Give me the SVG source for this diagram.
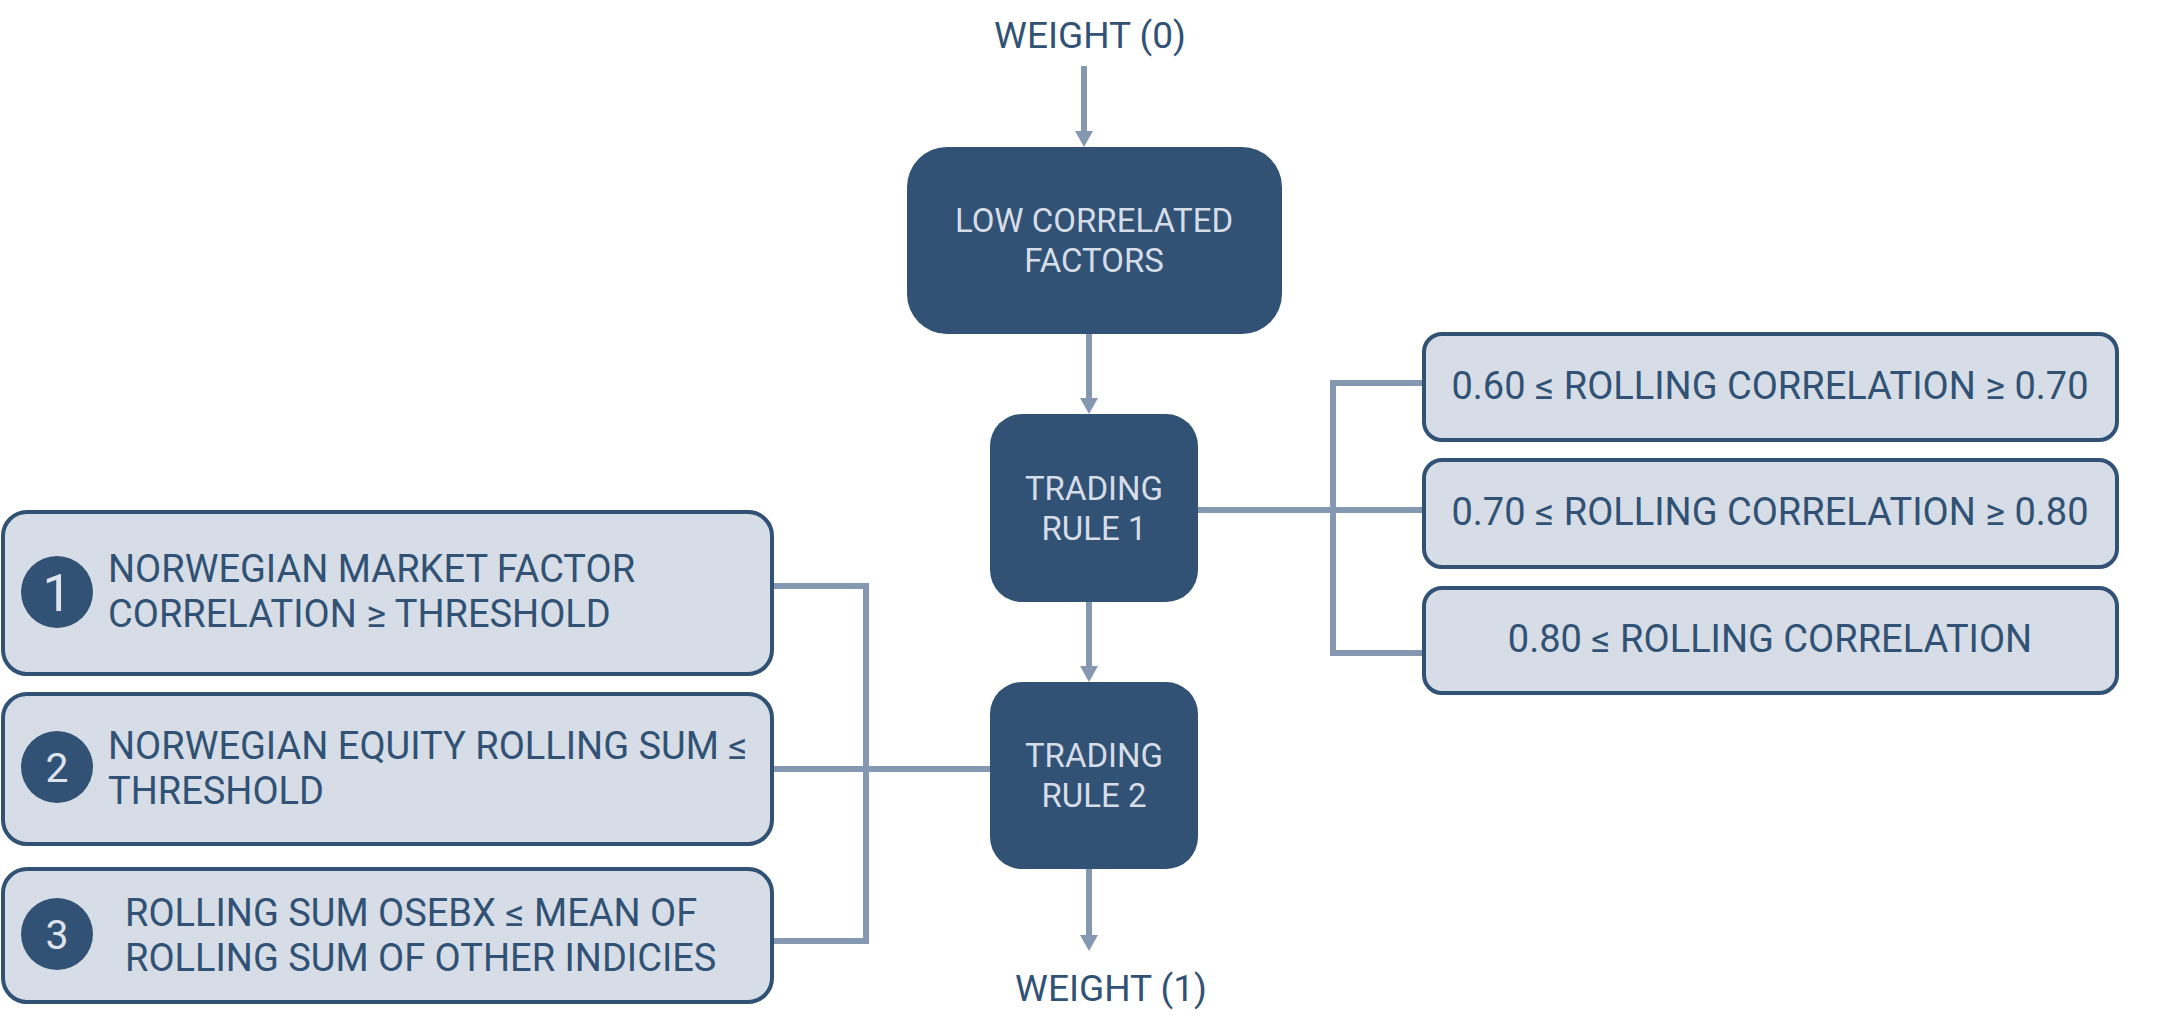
<svg xmlns="http://www.w3.org/2000/svg" width="2171" height="1034" viewBox="0 0 2171 1034">
<style>
  text { font-family: Roboto, "Liberation Sans", sans-serif; }
  .dark { fill: #315274; }
  .light { fill: #d6dde6; stroke: #315274; stroke-width: 4; }
  .conn { stroke: #8598b2; stroke-width: 6; fill: none; }
  .lt { fill: #d6dde8; font-size: 33px; text-anchor: middle; }
  .dt { fill: #315274; font-size: 38px; }
  .wt { fill: #315274; font-size: 37px; text-anchor: middle; }
  .num { fill: #dde3ec; text-anchor: middle; }
</style>
<defs>
  <marker id="arr" markerUnits="userSpaceOnUse" markerWidth="16" markerHeight="18" refX="0" refY="9" orient="auto" viewBox="0 0 16 18">
    <path d="M0,0 L16,9 L0,18 z" fill="#8598b2"/>
  </marker>
</defs>
<rect width="2171" height="1034" fill="#ffffff"/>

<g id="connectors">
  <line class="conn" x1="1084" y1="66" x2="1084" y2="131" marker-end="url(#arr)"/>
  <line class="conn" x1="1089" y1="334" x2="1089" y2="398" marker-end="url(#arr)"/>
  <line class="conn" x1="1089" y1="602" x2="1089" y2="666" marker-end="url(#arr)"/>
  <line class="conn" x1="1089" y1="869" x2="1089" y2="935" marker-end="url(#arr)"/>
  <line class="conn" x1="1193" y1="510" x2="1424" y2="510"/>
  <polyline class="conn" points="1424,383 1333,383 1333,653 1424,653"/>
  <polyline class="conn" points="772,586 866,586 866,941 772,941"/>
  <line class="conn" x1="772" y1="769" x2="990" y2="769"/>
</g>

<g id="weight0">
  <text class="wt" x="1090" y="48">WEIGHT (0)</text>
</g>
<g id="weight1">
  <text class="wt" x="1111" y="1001">WEIGHT (1)</text>
</g>

<g id="low-correlated">
  <rect class="dark" x="907" y="147" width="375" height="187" rx="40"/>
  <text class="lt" x="1094" y="232">LOW CORRELATED</text>
  <text class="lt" x="1094" y="272">FACTORS</text>
</g>

<g id="trading-rule-1">
  <rect class="dark" x="990" y="414" width="208" height="188" rx="32"/>
  <text class="lt" x="1094" y="500">TRADING</text>
  <text class="lt" x="1094" y="540">RULE 1</text>
</g>

<g id="trading-rule-2">
  <rect class="dark" x="990" y="682" width="208" height="187" rx="32"/>
  <text class="lt" x="1094" y="767">TRADING</text>
  <text class="lt" x="1094" y="807">RULE 2</text>
</g>

<g id="corr-1">
  <rect class="light" x="1424" y="334" width="693" height="106" rx="18"/>
  <text class="dt" x="1770" y="399" text-anchor="middle">0.60 ≤ ROLLING CORRELATION ≥ 0.70</text>
</g>
<g id="corr-2">
  <rect class="light" x="1424" y="460" width="693" height="107" rx="18"/>
  <text class="dt" x="1770" y="525" text-anchor="middle">0.70 ≤ ROLLING CORRELATION ≥ 0.80</text>
</g>
<g id="corr-3">
  <rect class="light" x="1424" y="588" width="693" height="105" rx="18"/>
  <text class="dt" x="1770" y="652" text-anchor="middle">0.80 ≤ ROLLING CORRELATION</text>
</g>

<g id="cond-1">
  <rect class="light" x="3" y="512" width="769" height="162" rx="24"/>
  <circle class="dark" cx="57" cy="592" r="36"/>
  <text class="num" x="57" y="611" font-size="52">1</text>
  <text class="dt" x="108" y="582">NORWEGIAN MARKET FACTOR</text>
  <text class="dt" x="108" y="627">CORRELATION ≥ THRESHOLD</text>
</g>
<g id="cond-2">
  <rect class="light" x="3" y="694" width="769" height="150" rx="24"/>
  <circle class="dark" cx="57" cy="767" r="36"/>
  <text class="num" x="57" y="782" font-size="41">2</text>
  <text class="dt" x="108" y="759">NORWEGIAN EQUITY ROLLING SUM ≤</text>
  <text class="dt" x="108" y="804">THRESHOLD</text>
</g>
<g id="cond-3">
  <rect class="light" x="3" y="869" width="769" height="133" rx="24"/>
  <circle class="dark" cx="57" cy="934" r="36"/>
  <text class="num" x="57" y="949" font-size="41">3</text>
  <text class="dt" x="125" y="926">ROLLING SUM OSEBX ≤ MEAN OF</text>
  <text class="dt" x="125" y="971">ROLLING SUM OF OTHER INDICIES</text>
</g>
</svg>
